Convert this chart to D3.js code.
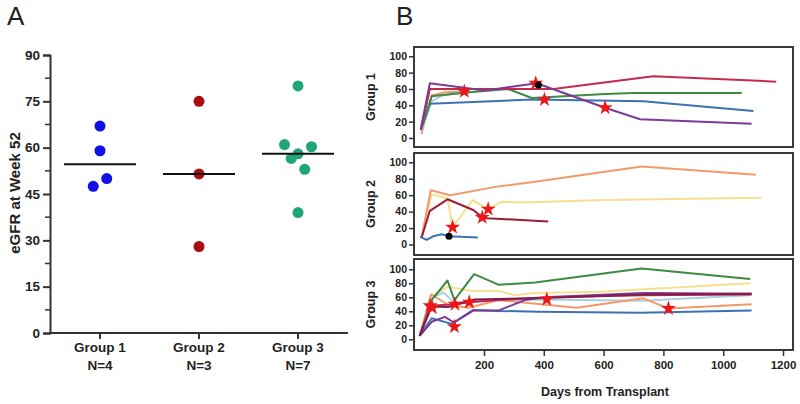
<!DOCTYPE html>
<html><head><meta charset="utf-8">
<script src="https://cdn.jsdelivr.net/npm/d3@7"></script>
<style>
body{margin:0;background:#fff;}
svg text{font-family:"Liberation Sans",Arial,sans-serif;fill:#222;}
</style></head>
<body><svg id="c" width="800" height="404"></svg>
<script>
// ---------- Panel A data ----------
const groupLabels = ["Group 1", "Group 2", "Group 3"];
const nLabels = ["N=4", "N=3", "N=7"];
const group1Values = [67, 59, 47.5, 50];
const group2Values = [75, 51.5, 28];
const group3Values = [80, 61, 60.3, 58, 56.5, 53, 39];
const groupMeans = [54.6, 51.5, 58];
const yTicksA = [0, 15, 30, 45, 60, 75, 90];

// ---------- Panel B data (day, eGFR) ----------
const xTicksB = [200, 400, 600, 800, 1000, 1200];
const yTicksB = [0, 20, 40, 60, 80, 100];
const panelNames = ["Group 1", "Group 2", "Group 3"];

const g1Purple = [[-11,12],[19,67],[203,58],[376,67],[605,37],[722,23],[1095,17.5]];
const g1Crimson = [[-11,10],[19,60],[432,60],[766,75.5],[1177,69]];
const g1Green = [[-11,10],[25,51],[131,55.5],[281,60],[360,49],[605,54],[700,55],[1062,55]];
const g1Blue = [[-11,10],[19,42],[360,47],[733,45],[1101,33]];
const g1Orange = [[-9,5],[25,52],[70,56],[134,57]];
const g1LightBlue = [[-9,8],[25,45],[60,52],[100,54],[150,55]];
const g1Stars = [[134,57],[373,67],[402,47],[605,37]];
const g1Dots = [[382,65]];

const g2Orange = [[-8,9.5],[22,66],[86,60],[253,71],[365,76],[727,95],[1110,85]];
const g2Yellow = [[-8,9.5],[25,61],[78,56],[95,21],[162,54],[214,43],[259,52],[325,51],[605,54],[1129,57]];
const g2DarkRed = [[-8,9.5],[19,41],[78,55],[164,42],[194,33],[210,32],[415,28]];
const g2Blue = [[-14,9.5],[8,5.5],[30,10],[58,12.5],[83,10],[179,8.5]];
const g2Stars = [[95,21],[194,33],[214,43]];
const g2Dots = [[83,10]];

const g3Green = [[-15,5],[25,56],[78,84],[101,56],[167,93],[248,78],[371,81],[727,101],[1090,86]];
const g3Yellow = [[-15,5],[25,62],[78,75],[158,69],[248,69],[304,63],[365,66],[588,68],[1090,80]];
const g3LightBlue = [[-15,5],[20,58],[65,67],[100,52],[170,55],[400,57],[730,55],[1090,63]];
const g3Orange = [[-15,5],[23,64],[81,49],[150,45],[248,56],[365,51],[510,45],[733,58.5],[817,44],[1095,50]];
const g3Blue = [[-15,5],[25,30],[92,22],[164,42],[248,40.5],[381,39.5],[722,38],[1095,41]];
const g3Purple = [[-15,5],[25,25],[69,32],[100,24],[164,41],[248,41],[337,56],[400,60],[733,66],[1095,65]];
const g3Crimson = [[-15,5],[20,48],[103,50],[151,53],[250,56],[410,60],[733,63],[1095,64]];
const g3Maroon = [[-15,5],[25,47],[80,46],[167,57],[400,59],[733,64],[1095,65]];
const g3Stars = [[20,48],[27,45],[103,50],[101,18],[151,53],[410,57],[817,44]];

// ---------- styles ----------
const dotColors = ["#1010e8", "#a80e0e", "#1fa57a"];
const C = {purple:"#7d3a96", crimson:"#c42a4e", green:"#3d8a43", blue:"#3c72b4",
  orange:"#f29a6a", lightblue:"#a9cfe4", yellow:"#f4e08e", darkred:"#9c1c36", maroon:"#7e1e52"};

const svg = d3.select("#c");
const axisCol = "#333";

// ================= PANEL A =================
svg.append("text").attr("x", 7).attr("y", 25).style("font-size","26px").text("A");

const xA = d3.scalePoint().domain(groupLabels).range([100, 298]);
const yA = d3.scaleLinear().domain([0, 90]).range([333, 55]);
const gA = svg.append("g");

const yAxisA = d3.axisLeft(yA).tickValues(yTicksA).tickSize(7).tickPadding(3);
const gyA = gA.append("g").attr("transform","translate(50,0)").call(yAxisA);
gyA.select(".domain").attr("stroke", axisCol).attr("stroke-width", 2);
gyA.selectAll(".tick line").attr("stroke", axisCol).attr("stroke-width", 2);
gyA.selectAll(".tick text").style("font-size","13.5px").style("font-weight","bold").attr("fill","#222");
const minor = d3.range(7.5, 90, 15);
gA.selectAll(".minorA").data(minor).join("line")
  .attr("x1", 45).attr("x2", 50).attr("y1", d=>yA(d)).attr("y2", d=>yA(d))
  .attr("stroke", axisCol).attr("stroke-width", 1.5);

gA.append("line").attr("x1", 49).attr("x2", 348).attr("y1", 333).attr("y2", 333)
  .attr("stroke", axisCol).attr("stroke-width", 2);
gA.selectAll(".xtA").data(groupLabels).join("line")
  .attr("x1", d=>xA(d)).attr("x2", d=>xA(d)).attr("y1", 333).attr("y2", 339)
  .attr("stroke", axisCol).attr("stroke-width", 2);
gA.selectAll(".xlA").data(groupLabels).join("text")
  .attr("x", d=>xA(d)).attr("y", 352).attr("text-anchor","middle")
  .style("font-size","13.5px").style("font-weight","bold").text(d=>d);
gA.selectAll(".xnA").data(nLabels).join("text")
  .attr("x", (d,i)=>xA(groupLabels[i])).attr("y", 370).attr("text-anchor","middle")
  .style("font-size","13.5px").style("font-weight","bold").text(d=>d);

gA.append("text").attr("transform","translate(20,193) rotate(-90)").attr("text-anchor","middle")
  .style("font-size","15px").style("font-weight","bold").text("eGFR at Week 52");

// scatter placement: points binned by value rows, spread symmetrically within a row
const R = 5.5, SPACING = 13.5, BIN = 5;
function spread(values, cx) {
  const bins = d3.group(values.map((v,i)=>({v,i})), d => Math.round(d.v / BIN));
  const out = new Array(values.length);
  bins.forEach(items => {
    const n = items.length;
    const slots = d3.range(n).map(k => (k - (n-1)/2) * SPACING);
    // assign outermost slots first: left, right, left, right ... then center
    let lo = 0, hi = n - 1;
    items.forEach((it, k) => {
      const s = (k % 2 === 0) ? slots[lo++] : slots[hi--];
      out[it.i] = {x: cx + s, y: yA(it.v)};
    });
  });
  return out;
}
[group1Values, group2Values, group3Values].forEach((vals, gi) => {
  const cx = xA(groupLabels[gi]);
  const pts = spread(vals, cx);
  gA.append("g").selectAll("circle").data(pts).join("circle")
    .attr("cx", d=>d.x).attr("cy", d=>d.y).attr("r", R).attr("fill", dotColors[gi]);
  gA.append("line").attr("x1", cx - 36).attr("x2", cx + 36)
    .attr("y1", yA(groupMeans[gi])).attr("y2", yA(groupMeans[gi]))
    .attr("stroke", "#111").attr("stroke-width", 2);
});

// ================= PANEL B =================
svg.append("text").attr("x", 396).attr("y", 25).style("font-size","26px").text("B");

const xB = d3.scaleLinear().domain([0, 1200]).range([424.2, 783]);
const panels = [
  {name: panelNames[0], top: 47, bottom: 147, y0: 138, y100: 56.3,
   series: [[g1Orange,C.orange],[g1LightBlue,C.lightblue],[g1Blue,C.blue],[g1Green,C.green],[g1Crimson,C.crimson],[g1Purple,C.purple]],
   stars: g1Stars, dots: g1Dots},
  {name: panelNames[1], top: 153, bottom: 255, y0: 244.5, y100: 162.3,
   series: [[g2Blue,C.blue],[g2Yellow,C.yellow],[g2Orange,C.orange],[g2DarkRed,C.darkred]],
   stars: g2Stars, dots: g2Dots},
  {name: panelNames[2], top: 259, bottom: 350, y0: 339.3, y100: 269.3,
   series: [[g3LightBlue,C.lightblue],[g3Yellow,C.yellow],[g3Orange,C.orange],[g3Blue,C.blue],[g3Purple,C.purple],[g3Green,C.green],[g3Crimson,C.crimson],[g3Maroon,C.maroon]],
   stars: g3Stars, dots: []}
];
const left = 414, right = 793;
const star = d3.symbol().type(d3.symbolStar).size(70);

panels.forEach(p => {
  const y = d3.scaleLinear().domain([0, 100]).range([p.y0, p.y100]);
  const g = svg.append("g");
  g.append("rect").attr("x", left).attr("y", p.top).attr("width", right-left).attr("height", p.bottom-p.top)
    .attr("fill","none").attr("stroke","#3a3a3a").attr("stroke-width", 2);
  const ax = d3.axisLeft(y).tickValues(yTicksB).tickSize(5).tickPadding(2);
  const gy = g.append("g").attr("transform", `translate(${left},0)`).call(ax);
  gy.select(".domain").remove();
  gy.selectAll(".tick line").attr("stroke", axisCol).attr("stroke-width", 1.5);
  gy.selectAll(".tick text").style("font-size","10.5px").style("font-weight","bold").attr("fill","#222");
  g.append("text").attr("transform", `translate(375,${(p.top+p.bottom)/2}) rotate(-90)`)
    .attr("text-anchor","middle").style("font-size","12.5px").style("font-weight","bold").text(p.name);
  const line = d3.line().x(d=>xB(d[0])).y(d=>y(d[1]));
  p.series.forEach(([data, col]) => {
    g.append("path").attr("d", line(data)).attr("fill","none").attr("stroke", col)
      .attr("stroke-width", 2).attr("stroke-linejoin","round");
  });
  g.selectAll(".star").data(p.stars).join("path")
    .attr("transform", d=>`translate(${xB(d[0])},${y(d[1])})`).attr("d", star).attr("fill","#f01414");
  g.selectAll(".dot").data(p.dots).join("circle")
    .attr("cx", d=>xB(d[0])).attr("cy", d=>y(d[1])).attr("r", 3.5).attr("fill","#000");
});

const axB = d3.axisBottom(xB).tickValues(xTicksB).tickFormat(d3.format("d")).tickSize(6).tickPadding(5);
const gxB = svg.append("g").attr("transform","translate(0,350)").call(axB);
gxB.select(".domain").remove();
gxB.selectAll(".tick line").attr("stroke", axisCol).attr("stroke-width", 1.5);
gxB.selectAll(".tick text").style("font-size","11.5px").style("font-weight","bold").attr("fill","#222");
svg.append("text").attr("x", 605).attr("y", 396).attr("text-anchor","middle")
  .style("font-size","12.5px").style("font-weight","bold").text("Days from Transplant");
</script></body></html>
